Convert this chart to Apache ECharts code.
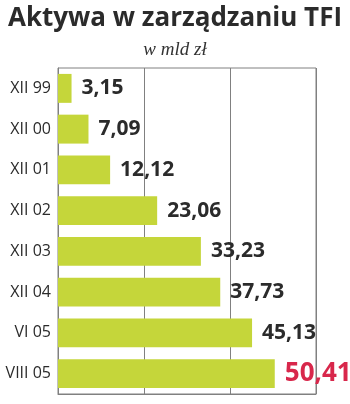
<!DOCTYPE html>
<html><head><meta charset="utf-8">
<script src="https://cdn.jsdelivr.net/npm/echarts@6/dist/echarts.min.js"></script>
<style>html,body{margin:0;padding:0;background:#fff}#c{width:350px;height:404px}</style>
</head><body><div id="c"></div>
<script>
const categories = ["XII 99","XII 00","XII 01","XII 02","XII 03","XII 04","VI 05","VIII 05"];
const values = [3.15, 7.09, 12.12, 23.06, 33.23, 37.73, 45.13, 50.41];
const valueLabels = ["3,15","7,09","12,12","23,06","33,23","37,73","45,13","50,41"];
const highlightIndex = 7;

const chart = echarts.init(document.getElementById('c'), null, {renderer:'canvas'});
const data = values.map((v,i)=>{
  const item = {value:v, label:{formatter: valueLabels[i]}};
  if(i===highlightIndex){ item.label.color='#d8274b'; item.label.fontSize=26; }
  return item;
});
chart.setOption({
  animation:false,
  title:[
    {text:'Aktywa w zarządzaniu TFI', left:'center', top:1,
     textStyle:{fontFamily:'Open Sans', fontWeight:'bold', fontSize:26, color:'#2b2b2b'}},
    {text:'w mld zł', left:'center', top:35,
     textStyle:{fontFamily:'Liberation Serif', fontStyle:'italic', fontWeight:'normal', fontSize:19, color:'#333'}}
  ],
  grid:{left:58, right:34, top:68, bottom:10, show:true, borderColor:'#808080', borderWidth:1},
  xAxis:{type:'value', min:0, max:60, interval:20,
    axisLabel:{show:false}, axisTick:{show:false},
    axisLine:{show:true, lineStyle:{color:'#808080'}},
    splitLine:{show:true, lineStyle:{color:'#808080', width:1}}},
  yAxis:{type:'category', data:categories, inverse:true,
    axisTick:{show:false},
    axisLine:{show:true, lineStyle:{color:'#808080'}},
    axisLabel:{margin:7, fontFamily:'Open Sans', fontSize:16, color:'#2b2b2b'}},
  series:[{type:'bar', data:data, barCategoryGap:'29%',
    itemStyle:{color:'#c5d63a'},
    label:{show:true, position:'right', distance:10, fontFamily:'Open Sans', fontWeight:'bold', fontSize:21, color:'#2b2b2b'}}]
});
</script></body></html>
